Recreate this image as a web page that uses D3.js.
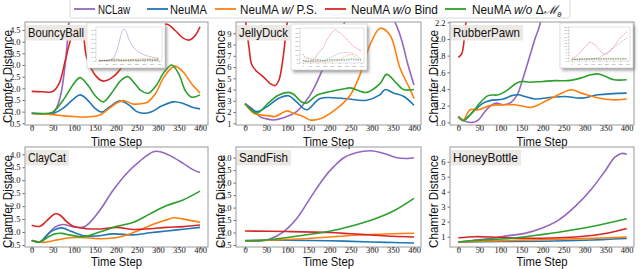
<!DOCTYPE html>
<html><head><meta charset="utf-8">
<script src="https://cdn.jsdelivr.net/npm/d3@7"></script>
<style>body{margin:0;background:#fff}svg{display:block}</style>
</head><body>
<svg id="c" width="640" height="269"></svg>
<script>
// ---------- data ----------
const timeTicks = [0, 50, 100, 150, 200, 250, 300, 350, 400];
const seriesNames = ["NCLaw", "NeuMA", "NeuMA w/P.S.", "NeuMA w/o Bind", "NeuMA w/o ΔMθ"];
const seriesColors = ["#9467bd", "#1f77b4", "#ff7f0e", "#d62728", "#2ca02c"];
const panelNames = ["BouncyBall", "JellyDuck", "RubberPawn", "ClayCat", "SandFish", "HoneyBottle"];

// BouncyBall
const bouncyNCLaw = [[0,0.92],[25,0.9],[50,0.95],[60,1.2],[70,1.8],[80,3.1],[90,5.2],[100,8],[125,30],[150,62],[165,72],[180,66],[200,48],[225,32],[250,24],[275,18],[300,14],[325,11],[350,9],[375,7],[400,5.5]];
const bouncyNeuMA = [[0,0.93],[25,0.91],[50,0.92],[75,1.15],[100,1.55],[115,1.72],[130,1.55],[150,1.15],[166,0.98],[185,1.2],[210,1.46],[230,1.3],[250,1.0],[265,0.93],[285,1.0],[310,1.25],[337,1.42],[360,1.35],[380,1.2],[400,1.12]];
const bouncyPS = [[0,0.93],[25,0.9],[50,0.87],[75,0.82],[100,0.79],[125,0.77],[150,0.8],[165,0.88],[185,1.15],[205,1.4],[220,1.47],[240,1.33],[255,1.33],[275,1.4],[295,1.8],[315,2.5],[340,2.95],[360,2.7],[380,2.2],[400,1.8]];
const bouncyBind = [[0,1.87],[25,1.85],[50,1.86],[65,2.2],[80,3.2],[95,4.2],[108,4.55],[120,4.4],[131,3.3],[154,2.5],[170,2.31],[194,2.5],[218,3.0],[250,4.0],[280,4.5],[300,4.65],[322,4.75],[340,4.5],[360,4.15],[375,4.07],[390,4.3],[400,4.64]];
const bouncyNoDM = [[0,0.93],[25,0.92],[50,0.98],[75,1.5],[100,2.2],[115,2.46],[135,2.1],[150,1.7],[170,1.42],[190,1.8],[210,2.3],[228,2.5],[245,2.2],[260,1.9],[277,1.79],[295,2.1],[315,2.7],[333,3.0],[350,2.6],[365,1.9],[380,1.62],[400,1.72]];
const bouncyTicks = [0.5, 1.0, 1.5, 2.0, 2.5, 3.0, 3.5, 4.0, 4.5];

// JellyDuck
const jellyNCLaw = [[0,2.75],[16,2.33],[35,1.6],[50,1.4],[67,1.3],[91,1.5],[122,2.04],[154,3.5],[178,5.3],[197,7.1],[225,9.1],[260,11.5],[300,12],[330,11.5],[355,10],[370,8.5],[385,6.3],[400,4.4]];
const jellyNeuMA = [[0,2.75],[28,2.05],[55,2.55],[79,3.2],[103,3.45],[122,2.9],[146,2.2],[178,3.2],[233,3.2],[288,3.05],[318,3.5],[332,4.0],[351,3.7],[375,3.4],[400,2.6]];
const jellyPS = [[0,2.75],[20,1.9],[35,1.75],[55,1.68],[71,1.6],[99,2.1],[114,1.9],[138,1.6],[154,1.3],[178,1.4],[217,2.3],[249,3.5],[272,5.3],[296,8.0],[320,9.45],[343,8.85],[367,5.9],[391,4.0],[400,3.2]];
const jellyBind = [[0,10.5],[5,9.0],[10,7.6],[16,6.2],[28,5.6],[43,5.15],[59,4.55],[71,4.35],[80,4.8],[90,6.8],[100,10],[125,15],[145,19],[160,25],[175,29],[200,35],[222,38],[240,36],[260,34],[290,29],[320,24],[350,19],[387,15],[400,14]];
const jellyNoDM = [[0,2.75],[28,1.9],[55,2.8],[79,3.5],[103,3.75],[114,3.6],[134,2.9],[146,2.8],[170,3.5],[193,3.75],[233,4.05],[249,4.15],[288,3.75],[320,4.55],[335,5.35],[359,4.55],[375,4.0],[400,4.0]];
const jellyTicks = [1, 2, 3, 4, 5, 6, 7, 8, 9];

// RubberPawn
const rubberNCLaw = [[0,1.07],[12,1.02],[36,1.0],[48,1.03],[62,1.12],[75,1.19],[90,1.23],[107,1.21],[125,1.24],[140,1.33],[150,1.47],[166,1.73],[182,2.0],[195,2.2],[230,4],[300,8.5],[350,12],[400,15]];
const rubberNeuMA = [[0,1.07],[12,1.03],[36,1.13],[59,1.23],[75,1.26],[107,1.28],[127,1.32],[143,1.33],[158,1.31],[182,1.28],[222,1.3],[253,1.31],[293,1.29],[333,1.33],[400,1.35]];
const rubberPS = [[0,1.07],[12,1.03],[28,1.15],[48,1.15],[75,1.2],[107,1.21],[135,1.21],[174,1.18],[198,1.23],[238,1.33],[269,1.39],[293,1.35],[325,1.3],[364,1.27],[400,1.28]];
const rubberBind = [[0,1.78],[8,1.82],[16,2.1],[25,2.6],[50,4.5],[100,9.5],[130,12],[160,11],[200,7],[230,4.5],[260,5],[300,9],[350,15],[400,19]];
const rubberNoDM = [[0,1.06],[12,1.02],[32,1.11],[51,1.23],[71,1.32],[95,1.33],[115,1.38],[135,1.46],[150,1.49],[170,1.48],[200,1.49],[230,1.5],[260,1.5],[290,1.53],[315,1.57],[333,1.58],[350,1.55],[370,1.51],[400,1.51]];
const rubberTicks = [1.0, 1.2, 1.4, 1.6, 1.8, 2.0, 2.2];

// ClayCat
const clayNCLaw = [[0,0.67],[20,0.62],[36,0.86],[55,1.19],[75,1.29],[99,1.2],[123,1.19],[139,1.38],[162,1.84],[194,2.62],[226,3.27],[257,3.74],[289,4.1],[305,4.1],[329,3.95],[360,3.65],[384,3.4],[400,3.3]];
const clayNeuMA = [[0,0.67],[20,0.62],[40,0.95],[55,1.1],[71,1.16],[95,1.02],[123,0.86],[154,0.85],[194,0.93],[242,0.89],[281,0.97],[321,1.04],[360,1.11],[400,1.18]];
const clayPS = [[0,0.67],[28,0.6],[59,0.69],[91,0.78],[131,0.78],[162,0.74],[194,0.77],[226,0.89],[257,1.08],[289,1.3],[321,1.47],[337,1.55],[360,1.5],[400,1.38]];
const clayBind = [[0,1.26],[20,1.22],[36,1.44],[55,1.7],[67,1.66],[83,1.4],[99,1.22],[131,1.13],[162,1.12],[202,1.18],[242,1.1],[281,1.13],[321,1.18],[360,1.21],[400,1.27]];
const clayNoDM = [[0,0.67],[20,0.62],[40,0.82],[55,0.93],[71,0.95],[95,0.87],[123,0.82],[162,1.0],[202,1.22],[242,1.38],[281,1.7],[321,2.02],[360,2.24],[400,2.58]];
const clayTicks = [0.5, 1.0, 1.5, 2.0, 2.5, 3.0, 3.5, 4.0];

// SandFish
const sandNCLaw = [[0,0.66],[36,0.66],[59,0.74],[91,1.03],[123,1.57],[154,2.37],[186,3.17],[210,3.64],[234,4.0],[265,4.21],[297,4.28],[329,4.17],[360,4.0],[384,3.97],[400,4.0]];
const sandNeuMA = [[0,0.68],[100,0.69],[200,0.67],[300,0.62],[350,0.6],[400,0.58]];
const sandPS = [[0,0.66],[100,0.72],[150,0.76],[200,0.82],[250,0.88],[300,0.92],[350,0.95],[400,0.97]];
const sandBind = [[0,1.06],[100,1.04],[200,1.0],[250,0.95],[300,0.9],[350,0.85],[400,0.82]];
const sandNoDM = [[0,0.67],[50,0.7],[100,0.8],[150,0.92],[200,1.05],[250,1.25],[300,1.5],[350,1.85],[400,2.37]];
const sandTicks = [0.5, 1.0, 1.5, 2.0, 2.5, 3.0, 3.5, 4.0];

// HoneyBottle
const honeyNCLaw = [[0,0.62],[40,0.78],[79,0.89],[119,1.07],[158,1.22],[198,1.56],[238,2.1],[277,3.0],[317,4.2],[349,5.4],[372,6.3],[388,6.55],[400,6.5]];
const honeyNeuMA = [[0,0.65],[100,0.68],[200,0.7],[300,0.76],[400,0.88]];
const honeyPS = [[0,0.65],[100,0.74],[200,0.8],[300,0.87],[400,0.97]];
const honeyBind = [[0,0.93],[40,1.0],[79,0.98],[119,0.92],[198,0.9],[277,0.98],[317,1.08],[356,1.25],[400,1.55]];
const honeyNoDM = [[0,0.65],[40,0.75],[119,0.88],[158,1.0],[238,1.3],[317,1.68],[400,2.2]];
const honeyTicks = [1, 2, 3, 4, 5, 6];

// ---------- layout ----------
const cols = [
  {L:25, R:208, x0:31.7, x400:200, yl:6.5},
  {L:236, R:421, x0:245, x400:414, yl:219.5},
  {L:450, R:634, x0:458.3, x400:626.7, yl:433}
];
const rows = [
  {T:22, B:125, xl:145.5, lc:76.5},
  {T:147, B:247, xl:266, lc:201.5}
];
const panels = [
  {series:[bouncyNCLaw,bouncyNeuMA,bouncyPS,bouncyBind,bouncyNoDM], ticks:bouncyTicks, fmt:".1f", ymap:[0.5,123.3,4.5,30], tw:56, inset:{x:87,y:23,w:78,h:45,ymax:76}},
  {series:[jellyNCLaw,jellyNeuMA,jellyPS,jellyBind,jellyNoDM], ticks:jellyTicks, fmt:"d", ymap:[1,123.3,9,33.3], tw:49, inset:{x:291,y:24,w:76,h:46,ymax:40}},
  {series:[rubberNCLaw,rubberNeuMA,rubberPS,rubberBind,rubberNoDM], ticks:rubberTicks, fmt:".1f", ymap:[1.0,122.3,2.2,22.3], tw:67, inset:{x:560,y:23,w:73,h:45,ymax:22}},
  {series:[clayNCLaw,clayNeuMA,clayPS,clayBind,clayNoDM], ticks:clayTicks, fmt:".1f", ymap:[0.5,245,4.0,154.3], tw:38},
  {series:[sandNCLaw,sandNeuMA,sandPS,sandBind,sandNoDM], ticks:sandTicks, fmt:".1f", ymap:[0.5,245,4.0,157.7], tw:49},
  {series:[honeyNCLaw,honeyNeuMA,honeyPS,honeyBind,honeyNoDM], ticks:honeyTicks, fmt:"d", ymap:[1,236.7,6,161.7], tw:65}
];

const svg = d3.select("#c");
const defs = svg.append("defs");
const blur = defs.append("filter").attr("id","sh").attr("x","-20%").attr("y","-20%").attr("width","150%").attr("height","150%");
blur.append("feGaussianBlur").attr("stdDeviation",1.5);

const sans = "'Liberation Sans', Arial, sans-serif";
const serif = "'Liberation Serif', 'Times New Roman', serif";

// squeeze a text element horizontally to a target width
function fitWidth(t, targetW) {
  const bw = t.node().getComputedTextLength();
  const sx = bw > 0 ? targetW / bw : 1;
  t.attr("transform", `scale(${sx},1)`);
}
function squeezed(parent, tx, ty, rot, str, size, targetW, anchor) {
  const w = parent.append("g").attr("transform", `translate(${tx},${ty}) rotate(${rot})`);
  const t = w.append("text").attr("x", 0).attr("y", 0).text(str)
    .attr("font-family", sans).attr("font-size", size).attr("fill", "#111")
    .attr("text-anchor", anchor);
  fitWidth(t, targetW);
  return t;
}

panels.forEach((p, i) => {
  const c = cols[i % 3], r = rows[Math.floor(i / 3)];
  const g = svg.append("g");
  const x = d3.scaleLinear().domain([0, 400]).range([c.x0, c.x400]);
  const y = d3.scaleLinear().domain([p.ymap[0], p.ymap[2]]).range([p.ymap[1], p.ymap[3]]);
  const cid = "clip" + i;
  defs.append("clipPath").attr("id", cid).append("rect")
    .attr("x", c.L).attr("y", r.T).attr("width", c.R - c.L).attr("height", r.B - r.T);

  // axes
  const xa = d3.axisBottom(x).tickValues(timeTicks).tickSize(2.5).tickPadding(0);
  const ya = d3.axisLeft(y).tickValues(p.ticks).tickSize(2.5).tickPadding(2).tickFormat(d3.format(p.fmt));
  const gx = g.append("g").attr("transform", `translate(0,${r.B})`).call(xa);
  const gy = g.append("g").attr("transform", `translate(${c.L},0)`).call(ya);
  [gx, gy].forEach(a => {
    a.select(".domain").remove();
    a.selectAll("line").attr("stroke", "#444").attr("stroke-width", 0.8);
    a.selectAll("text").attr("font-family", serif).attr("font-size", 8.5).attr("fill", "#111");
  });
  gx.selectAll("text").attr("y", 0);

  // lines
  const line = d3.line().x(d => x(d[0])).y(d => y(d[1])).curve(d3.curveCatmullRom.alpha(0.5));
  const lg = g.append("g").attr("clip-path", `url(#${cid})`);
  p.series.forEach((s, k) => {
    lg.append("path").datum(s).attr("d", line).attr("fill", "none")
      .attr("stroke", seriesColors[k]).attr("stroke-width", 1.6).attr("stroke-linejoin", "round");
  });

  // frame
  g.append("rect").attr("x", c.L).attr("y", r.T).attr("width", c.R - c.L).attr("height", r.B - r.T)
    .attr("fill", "none").attr("stroke", "#9a9a9a").attr("stroke-width", 1);

  // inset
  if (p.inset) {
    const q = p.inset;
    g.append("rect").attr("x", q.x + 2).attr("y", q.y + 2.5).attr("width", q.w).attr("height", q.h)
      .attr("fill", "#666").attr("opacity", 0.6).attr("filter", "url(#sh)");
    g.append("rect").attr("x", q.x).attr("y", q.y).attr("width", q.w).attr("height", q.h)
      .attr("fill", "#fff").attr("stroke", "#c8c8c8").attr("stroke-width", 0.6);
    const ix = d3.scaleLinear().domain([-20, 420]).range([q.x + 9, q.x + q.w - 3]);
    const iy = d3.scaleLinear().domain([0, q.ymax]).range([q.y + q.h - 7, q.y + 4]);
    g.append("rect").attr("x", q.x + 9).attr("y", q.y + 4).attr("width", q.w - 12).attr("height", q.h - 11)
      .attr("fill", "none").attr("stroke", "#bbb").attr("stroke-width", 0.4);
    const iax = g.append("g").attr("transform", `translate(0,${q.y + q.h - 7})`)
      .call(d3.axisBottom(ix).tickValues(timeTicks).tickSize(1.2).tickPadding(0.8));
    const iay = g.append("g").attr("transform", `translate(${q.x + 9},0)`)
      .call(d3.axisLeft(iy).ticks(7).tickSize(1.2).tickPadding(0.8));
    [iax, iay].forEach(a => {
      a.select(".domain").remove();
      a.selectAll("line").attr("stroke", "#777").attr("stroke-width", 0.4);
      a.selectAll("text").attr("font-family", sans).attr("font-size", 2.4).attr("fill", "#777");
    });
    const il = d3.line().x(d => ix(d[0])).y(d => iy(d[1])).curve(d3.curveCatmullRom.alpha(0.5));
    p.series.forEach((s, k) => {
      g.append("path").datum(s).attr("d", il).attr("fill", "none")
        .attr("stroke", seriesColors[k]).attr("stroke-width", 0.8).attr("opacity", 0.55)
        .attr("stroke-dasharray", k === 0 && i === 0 ? null : "1.6,0.8");
    });
  }

  // title box
  g.append("rect").attr("x", c.L + 1).attr("y", r.T + 3).attr("width", p.tw + 5).attr("height", 15.5)
    .attr("fill", "#ebe7e3").attr("opacity", 0.95);
  squeezed(g, c.L + 3, r.T + 15.3, 0, panelNames[i], 13.5, p.tw, "start");

  // axis labels
  squeezed(g, c.yl + 5, r.lc, -90, "Chamfer Distance", 13.5, 93, "middle");
  squeezed(g, (c.L + c.R) / 2, r.xl, 0, "Time Step", 12.8, 51, "middle");
});

// ---------- legend ----------
const leg = svg.append("g");
leg.append("rect").attr("x", 70).attr("y", -1).attr("width", 500).attr("height", 19)
  .attr("fill", "#fff").attr("stroke", "#d0d0d0").attr("stroke-width", 0.8).attr("rx", 2);
const legLine = [74, 147, 215, 325, 445];
const legText = [98, 170, 240, 351, 472];
const legW = [32, 37, 77, 87, 89];
seriesNames.forEach((n, k) => {
  leg.append("line").attr("x1", legLine[k]).attr("x2", legLine[k] + 21).attr("y1", 9).attr("y2", 9)
    .attr("stroke", seriesColors[k]).attr("stroke-width", 1.8);
  const wrap = leg.append("g").attr("transform", `translate(${legText[k]},13.5)`);
  const t = wrap.append("text").attr("x", 0).attr("y", 0)
    .attr("font-family", sans).attr("font-size", 12.5).attr("fill", "#111");
  if (k < 2) { t.text(n); }
  else if (k === 2) { t.append("tspan").text("NeuMA "); t.append("tspan").attr("font-style","italic").text("w/"); t.append("tspan").text(" P.S."); }
  else if (k === 3) { t.append("tspan").text("NeuMA "); t.append("tspan").attr("font-style","italic").text("w/o"); t.append("tspan").text(" Bind"); }
  else {
    t.append("tspan").text("NeuMA "); t.append("tspan").attr("font-style","italic").text("w/o");
    t.append("tspan").text(" Δ");
    t.append("tspan").attr("font-family","'DejaVu Serif', serif").attr("font-style","italic").text("ℳ");
    t.append("tspan").attr("font-size", 8).attr("dy", 3).attr("font-style","italic").text("θ");
  }
  fitWidth(t, legW[k]);
});
</script>
</body></html>
